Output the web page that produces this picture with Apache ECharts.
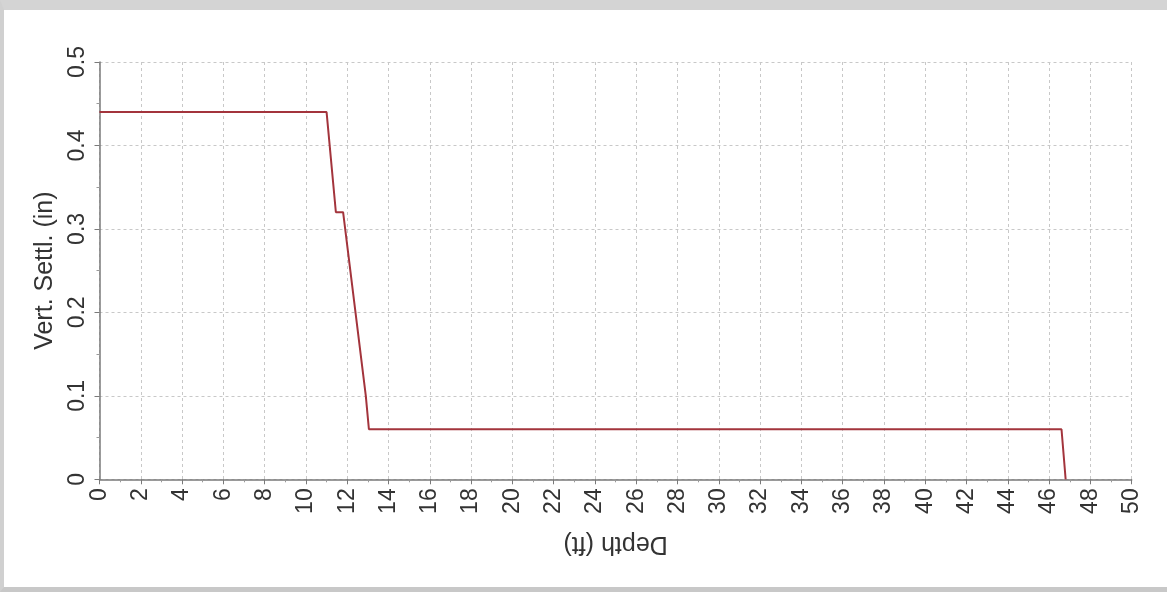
<!DOCTYPE html>
<html>
<head>
<meta charset="utf-8">
<script src="https://cdn.jsdelivr.net/npm/echarts@6/dist/echarts.min.js"></script>
<style>
  html, body { margin: 0; padding: 0; width: 1167px; height: 592px; overflow: hidden; background: #ffffff; }
  #frame { position: absolute; left: 0; top: 0; width: 1167px; height: 592px;
    box-sizing: border-box; border-top: 10px solid #d4d4d4; border-left: 4px solid #d0d0d0; border-bottom: 5px solid #c8c8c8; }
  #chart { position: absolute; left: 0; top: 0; width: 1167px; height: 592px; }
</style>
</head>
<body>
<div id="frame"></div>
<div id="chart"></div>
<script>
// Data
const depthFt = [0, 11.0, 11.45, 11.8, 12.9, 13.05, 46.6, 46.65, 46.75, 46.8];
const vertSettlIn = [0.44, 0.44, 0.32, 0.32, 0.10, 0.06, 0.06, 0.045, 0.015, 0];
const xTitle = 'Depth (ft)';
const yTitle = 'Vert. Settl. (in)';

const points = depthFt.map((d, i) => [d, vertSettlIn[i]]);

const chart = echarts.init(document.getElementById('chart'), null, { renderer: 'canvas' });
const font = 'Liberation Sans, Arial, sans-serif';
chart.setOption({
  backgroundColor: 'transparent',
  animation: false,
  grid: { left: 99.5, right: 35.3, top: 62, bottom: 112.7, containLabel: false },
  xAxis: {
    type: 'value', min: 0, max: 50, interval: 2,
    name: xTitle, nameLocation: 'middle', nameGap: 52, nameRotate: 180,
    nameTextStyle: { fontFamily: font, fontSize: 25, color: '#333' },
    axisLine: { show: true, onZero: false, lineStyle: { color: '#7a7a7a', width: 1.5 } },
    axisTick: { show: true, length: 5, lineStyle: { color: '#7a7a7a' } },
    minorTick: { show: true, splitNumber: 2, length: 3, lineStyle: { color: '#9a9a9a' } },
    axisLabel: { rotate: 90, margin: 9, fontFamily: font, fontSize: 23, color: '#333' },
    splitLine: { show: true, lineStyle: { color: '#c8c8c8', type: [3, 3], width: 1 } }
  },
  yAxis: {
    type: 'value', min: 0, max: 0.5, interval: 0.1,
    name: yTitle, nameLocation: 'middle', nameGap: 42, nameRotate: 90,
    nameTextStyle: { fontFamily: font, fontSize: 25, color: '#333' },
    axisLine: { show: true, lineStyle: { color: '#7a7a7a', width: 1.5 } },
    axisTick: { show: true, length: 5, lineStyle: { color: '#7a7a7a' } },
    minorTick: { show: true, splitNumber: 2, length: 3, lineStyle: { color: '#9a9a9a' } },
    axisLabel: { rotate: 90, margin: 10, fontFamily: font, fontSize: 23, color: '#333' },
    splitLine: { show: true, lineStyle: { color: '#c8c8c8', type: [3, 3], width: 1 } }
  },
  series: [{
    type: 'line', data: points, showSymbol: false, symbol: 'none',
    lineStyle: { color: '#a3343c', width: 2 }, z: 5
  }]
});
</script>
</body>
</html>
